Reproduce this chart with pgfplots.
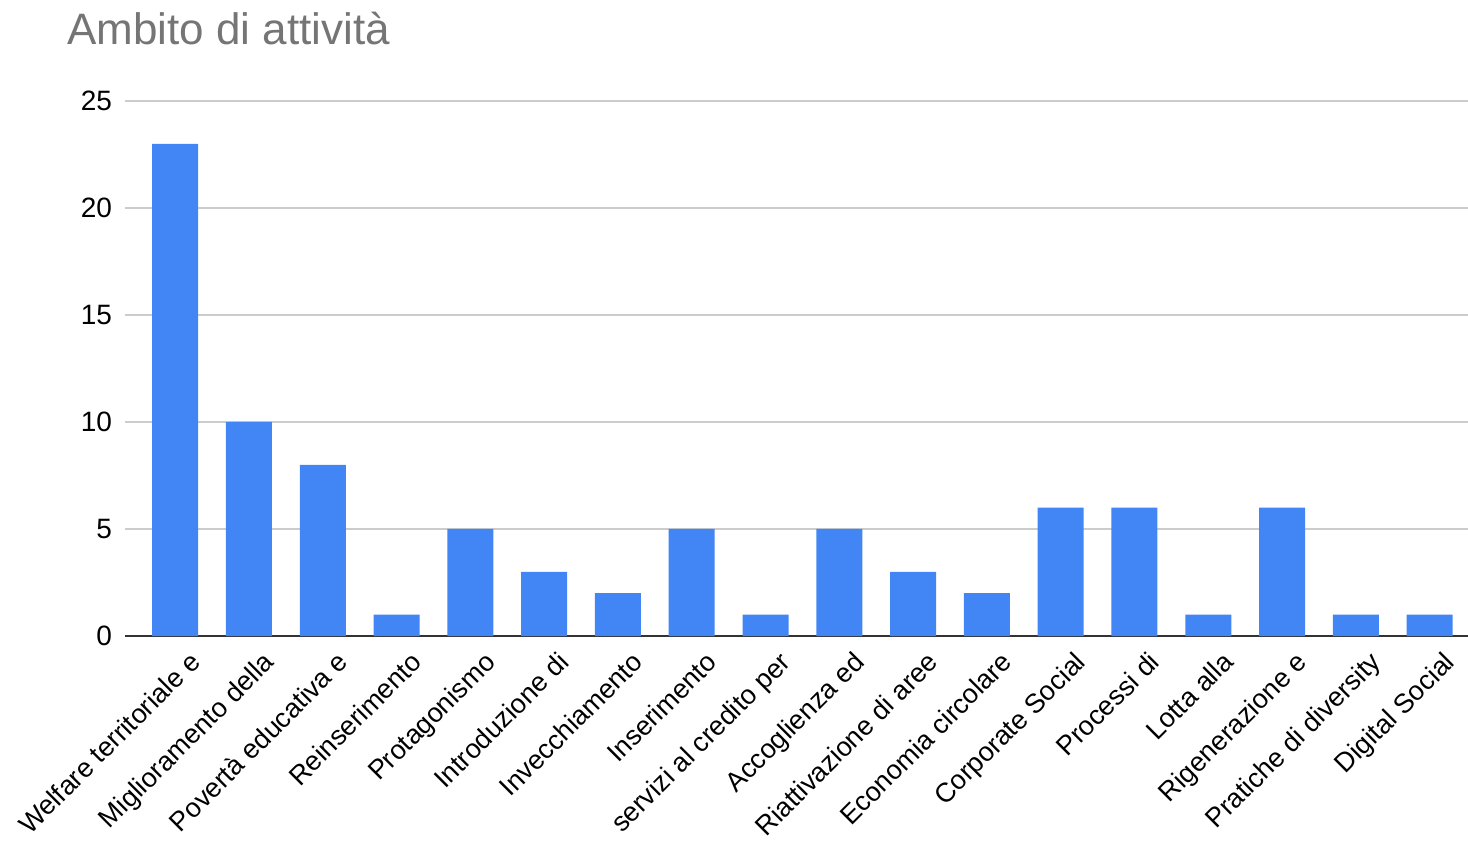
\documentclass[border=0pt]{standalone}
\usepackage{pgfplots}
\pgfplotsset{compat=1.18}
\usepackage{fontspec}
\setmainfont{Liberation Sans}
\definecolor{barblue}{HTML}{4285F4}
\definecolor{titlegray}{HTML}{757575}
\definecolor{gridgray}{HTML}{CCCCCC}
\begin{document}
\begin{tikzpicture}
\path[use as bounding box, clip] (0,0) rectangle (734pt,420.5pt);
\node[anchor=base west, inner sep=0pt, text=titlegray, font=\fontsize{22}{26}\selectfont] at (33.5pt,398pt) {Ambito di attività};
\begin{axis}[
  at={(62.5pt,102.5pt)}, anchor=south west,
  scale only axis, width=671.5pt, height=267.5pt,
  xmin=-0.68, xmax=17.52, ymin=0, ymax=25,
  ytick={0,5,10,15,20,25},
  xtick={0,...,17},
  xticklabels={Welfare territoriale e, Miglioramento della, Povertà educativa e, Reinserimento, Protagonismo, Introduzione di, Invecchiamento, Inserimento, servizi al credito per, Accoglienza ed, Riattivazione di aree, Economia circolare, Corporate Social, Processi di, Lotta alla, Rigenerazione e, Pratiche di diversity, Digital Social},
  xticklabel style={rotate=45, anchor=north east, font=\fontsize{13.5}{16}\selectfont, xshift=3pt, yshift=-6pt},
  yticklabel style={font=\fontsize{14}{16}\selectfont, xshift=-3pt},
  /pgf/number format/assume math mode=true,
  axis x line*=bottom, axis y line*=left,
  x axis line style={draw=black!80, line width=0.8pt, -},
  y axis line style={draw=none},
  major tick length=0pt,
  ymajorgrids, grid style={gridgray, line width=0.8pt},
  clip=false,
]
\addplot[ybar, bar width=23pt, fill=barblue, draw=none] coordinates {
  (0,23) (1,10) (2,8) (3,1) (4,5) (5,3) (6,2) (7,5) (8,1)
  (9,5) (10,3) (11,2) (12,6) (13,6) (14,1) (15,6) (16,1) (17,1)
};
\end{axis}
\end{tikzpicture}
\end{document}
